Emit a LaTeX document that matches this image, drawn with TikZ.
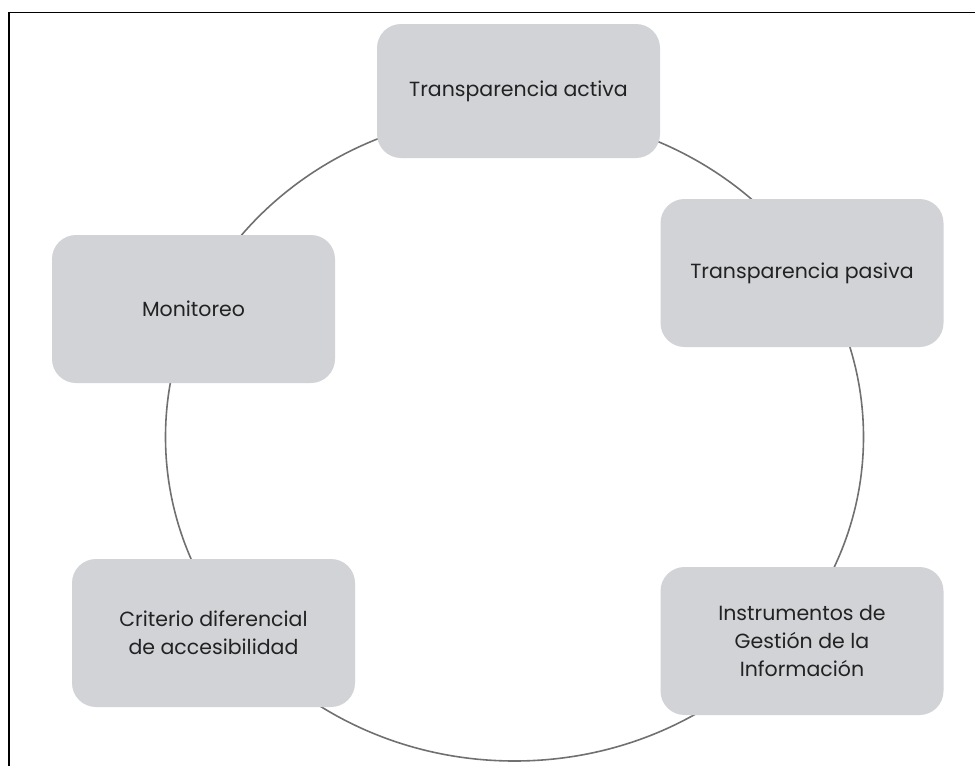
\documentclass[tikz,border=0pt]{standalone}
\usepackage{fontspec}
\setmainfont{Poppins}
\definecolor{boxgray}{HTML}{D1D3D6}
\definecolor{ringgray}{HTML}{707070}
\definecolor{txt}{HTML}{222222}
\begin{document}
\begin{tikzpicture}[x=1pt,y=-1pt,
  card/.style={fill=boxgray, rounded corners=24pt, minimum width=283pt, minimum height=148pt,
    inner sep=0pt, align=center, text=txt, font=\fontsize{20.5}{28}\selectfont},
  ring/.style={draw=ringgray, line width=1.6pt}]
\useasboundingbox (0,0) rectangle (975,766);
\draw[line width=1.8pt] (9,790) -- (9,12.5) -- (990,12.5);
\draw[ring] (514.5,437) ellipse [x radius=349pt, y radius=324pt];
\node[card, minimum height=134pt] (ta) at (518.5,91) {Transparencia activa};
\node[card] (tp) at (802,273) {Transparencia pasiva};
\node[card] (mo) at (193.5,309) {Monitoreo};
\node[card] (cd) at (213.5,633) {Criterio diferencial\\de accesibilidad};
\node[card] (ig) at (802,641) {Instrumentos de\\Gestión de la\\Información};
\end{tikzpicture}
\end{document}
